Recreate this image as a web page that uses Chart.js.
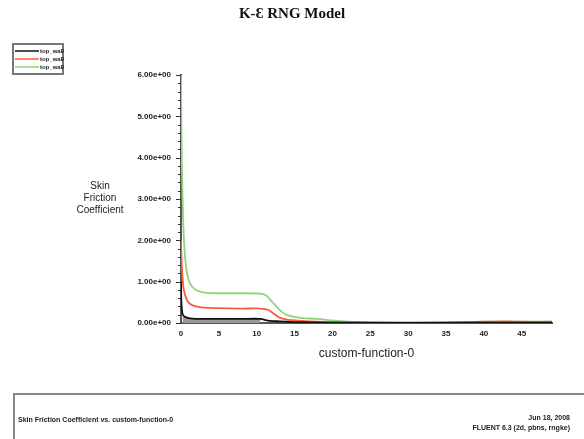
<!DOCTYPE html>
<html>
<head>
<meta charset="utf-8">
<script src="https://cdn.jsdelivr.net/npm/chart.js@4"></script>
<style>
  html, body { margin: 0; padding: 0; background: #fff; }
  #wrap { width: 584px; height: 439px; position: relative; }
</style>
</head>
<body>
<div id="wrap"><canvas id="c" width="584" height="439"></canvas></div>
<script>
// Wall skin-friction profiles along the custom function coordinate
const seriesNames = ['top_wall', 'top_wall', 'top_wall'];

const blackX = [0, 0.05, 0.2, 0.5, 1, 2, 5, 8, 10.5, 11.5, 13, 15, 20, 30, 40, 49];
const blackY = [1.0, 0.5, 0.22, 0.15, 0.12, 0.1, 0.1, 0.1, 0.1, 0.06, 0.04, 0.02, 0.01, 0.005, 0.01, 0.01];

const redX = [0, 0.1, 0.3, 0.5, 0.8, 1.2, 2, 3, 5, 8, 10.5, 11.5, 12.3, 13, 14, 15, 17, 20, 25, 30, 35, 40, 43, 45, 49];
const redY = [2.0, 1.4, 0.9, 0.7, 0.55, 0.46, 0.4, 0.37, 0.36, 0.35, 0.35, 0.32, 0.22, 0.13, 0.08, 0.06, 0.04, 0.02, 0.01, 0.01, 0.01, 0.03, 0.04, 0.03, 0.03];

const greenX = [0, 0.1, 0.3, 0.5, 0.8, 1.2, 1.8, 2.5, 3.5, 5, 8, 10.5, 11.3, 12, 12.7, 13.3, 14, 15, 16, 18, 20, 22, 25, 30, 35, 38, 40, 43, 45, 49];
const greenY = [6.0, 4.0, 2.4, 1.7, 1.2, 0.95, 0.82, 0.76, 0.73, 0.72, 0.72, 0.71, 0.66, 0.52, 0.38, 0.27, 0.19, 0.15, 0.12, 0.1, 0.06, 0.03, 0.01, 0.01, 0.01, 0.02, 0.03, 0.03, 0.03, 0.03];

// shaded band under the first wall profile
const shadeX = [0.2, 0.5, 1, 2, 5, 8, 10.5];
const shadeY = [0.22, 0.15, 0.12, 0.1, 0.1, 0.1, 0.1];

const yTicks = [0, 1, 2, 3, 4, 5, 6];
const xTicks = [0, 5, 10, 15, 20, 25, 30, 35, 40, 45];
const yTitleLines = ['Skin', 'Friction', 'Coefficient'];
const chartTitle = 'K-\u0190 RNG Model';
const xTitle = 'custom-function-0';
const footerLeft = 'Skin Friction Coefficient vs. custom-function-0';
const footerRight = ['Jun 18, 2008', 'FLUENT 6.3 (2d, pbns, rngke)'];

const colors = ['#111111', '#ff5a36', '#8ed67a'];

function pts(xs, ys) { return xs.map((x, i) => ({ x: x, y: ys[i] })); }

const tickLabel = v => Number(v).toFixed(2) + 'e+00';

const decor = {
  id: 'decor',
  afterDraw(chart) {
    const ctx = chart.ctx;
    const ys = chart.scales.y, xs = chart.scales.x;
    ctx.save();
    // title
    ctx.fillStyle = '#111';
    ctx.font = 'bold 15px "Liberation Serif", "Times New Roman", serif';
    ctx.textAlign = 'center';
    ctx.textBaseline = 'middle';
    ctx.fillText(chartTitle, 292, 14);

    // minor ticks on the y axis
    ctx.strokeStyle = '#333';
    ctx.lineWidth = 1;
    for (let v = 0; v <= 6.0001; v += 0.2) {
      const py = Math.round(ys.getPixelForValue(v)) + 0.5;
      const major = Math.abs(v - Math.round(v)) < 1e-6;
      ctx.beginPath();
      ctx.moveTo(xs.left - (major ? 5 : 3), py);
      ctx.lineTo(xs.left, py);
      ctx.stroke();
    }
    // y axis title, horizontal
    ctx.fillStyle = '#222';
    ctx.font = '10px "Liberation Sans", Arial, sans-serif';
    ctx.textAlign = 'center';
    ctx.textBaseline = 'middle';
    yTitleLines.forEach((t, i) => ctx.fillText(t, 100, 186 + i * 12));

    // legend box
    const lx = 13, ly = 44, lw = 50, lh = 30;
    ctx.fillStyle = '#fff';
    ctx.fillRect(lx, ly, lw, lh);
    ctx.strokeStyle = '#777';
    ctx.lineWidth = 2;
    ctx.strokeRect(lx, ly, lw, lh);
    ctx.font = 'bold 6px "Liberation Sans", Arial, sans-serif';
    ctx.textAlign = 'left';
    chart.data.datasets.forEach((ds, i) => {
      if (ds.hidden || ds.isShade) return;
      const yy = ly + 7 + i * 8;
      ctx.strokeStyle = ds.borderColor;
      ctx.lineWidth = 1.5;
      ctx.beginPath();
      ctx.moveTo(lx + 2, yy);
      ctx.lineTo(lx + 26, yy);
      ctx.stroke();
      ctx.fillStyle = '#222';
      ctx.fillText(ds.label, lx + 27, yy);
    });

    // footer frame
    ctx.strokeStyle = '#888';
    ctx.lineWidth = 2;
    ctx.beginPath();
    ctx.moveTo(14, 439);
    ctx.lineTo(14, 394);
    ctx.lineTo(584, 394);
    ctx.stroke();
    ctx.fillStyle = '#222';
    ctx.font = 'bold 7px "Liberation Sans", Arial, sans-serif';
    ctx.textAlign = 'left';
    ctx.fillText(footerLeft, 18, 420);
    ctx.textAlign = 'right';
    ctx.fillText(footerRight[0], 570, 418);
    ctx.fillText(footerRight[1], 570, 428);
    ctx.restore();
  }
};

const lineDs = (name, xs, ys, col) => ({
  label: name,
  data: pts(xs, ys),
  borderColor: col,
  backgroundColor: col,
  borderWidth: 1.8,
  pointRadius: 0,
  tension: 0.25,
  fill: false
});

new Chart(document.getElementById('c'), {
  type: 'line',
  data: {
    datasets: [
      lineDs(seriesNames[0], blackX, blackY, colors[0]),
      lineDs(seriesNames[1], redX, redY, colors[1]),
      lineDs(seriesNames[2], greenX, greenY, colors[2]),
      Object.assign(lineDs('', shadeX, shadeY, 'rgba(0,0,0,0)'), {
        isShade: true, fill: 'origin', backgroundColor: '#9a9a9a', borderWidth: 0, tension: 0
      })
    ]
  },
  options: {
    animation: false,
    responsive: false,
    devicePixelRatio: 1,
    layout: { padding: { left: 121, right: 32, top: 75, bottom: 78 } },
    plugins: {
      legend: { display: false },
      tooltip: { enabled: false },
      title: { display: false }
    },
    scales: {
      x: {
        type: 'linear',
        min: 0,
        max: 49,
        afterBuildTicks: s => { s.ticks = xTicks.map(v => ({ value: v })); },
        grid: { display: false, drawTicks: true, tickLength: 4, tickColor: '#333' },
        border: { display: true, color: '#555', width: 2 },
        ticks: {
          color: '#222',
          padding: 2,
          maxRotation: 0,
          font: { family: '"Liberation Sans", Arial, sans-serif', size: 8, weight: 'bold' }
        },
        title: {
          display: true,
          text: xTitle,
          color: '#222',
          padding: { top: 6, bottom: 0 },
          font: { family: '"Liberation Sans", Arial, sans-serif', size: 12 }
        }
      },
      y: {
        min: 0,
        max: 6,
        afterBuildTicks: s => { s.ticks = yTicks.map(v => ({ value: v })); },
        afterFit: s => { s.width = 60; },
        grid: { display: false, drawTicks: false },
        border: { display: true, color: '#555', width: 2 },
        ticks: {
          color: '#222',
          padding: 10,
          callback: v => tickLabel(v),
          font: { family: '"Liberation Sans", Arial, sans-serif', size: 8, weight: 'bold' }
        }
      }
    }
  },
  plugins: [decor]
});
</script>
</body>
</html>
